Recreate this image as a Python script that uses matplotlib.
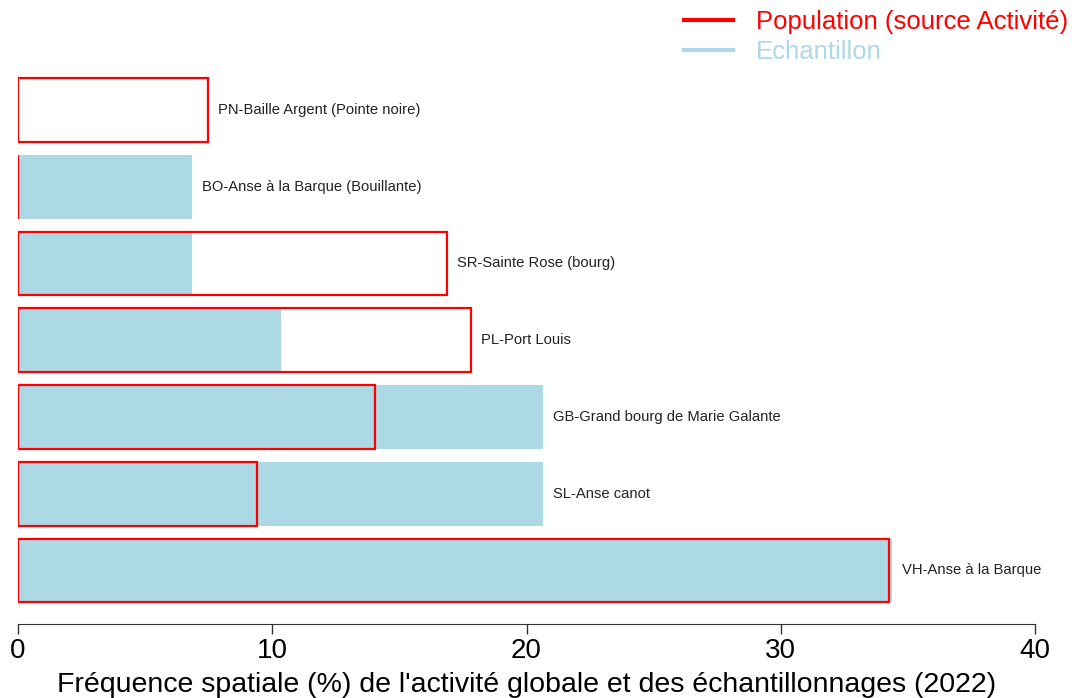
import matplotlib
matplotlib.use("Agg")
import matplotlib.pyplot as plt
from matplotlib.lines import Line2D

plt.rcParams['font.family'] = ['Liberation Sans', 'DejaVu Sans']

# sites, bottom to top
sites = ["VH-Anse à la Barque", "SL-Anse canot", "GB-Grand bourg de Marie Galante",
         "PL-Port Louis", "SR-Sainte Rose (bourg)", "BO-Anse à la Barque (Bouillante)",
         "PN-Baille Argent (Pointe noire)"]
population = [34.25, 9.40, 14.04, 17.81, 16.87, 0.0, 7.47]
echantillon = [34.37, 20.65, 20.65, 10.34, 6.84, 6.84, 0.0]

red = "#ff0000"
blue = "#add8e6"

fig = plt.figure(figsize=(10.75, 6.98), dpi=100)
ax = fig.add_axes([18 / 1075, 1 - 624 / 698, (1035 - 18) / 1075, (624 - 70) / 698])

ypos = list(range(len(sites)))
ax.barh(ypos, echantillon, height=0.83, color=blue, zorder=1)
ax.barh(ypos, population, height=0.83, facecolor="none", edgecolor=red,
        linewidth=1.6, zorder=2)

for y, name, p, e in zip(ypos, sites, population, echantillon):
    ax.annotate(name, xy=(max(p, e), y), xytext=(7, 0), textcoords="offset points",
                va="center", ha="left", fontsize=10.6, color="#222222")

ax.set_xlim(0, 40)
ax.set_ylim(-0.697, 6.52)
ax.set_xticks([0, 10, 20, 30, 40])
ax.tick_params(axis="x", length=7, width=1, colors="#333333", labelsize=20,
               labelcolor="black", pad=3)
ax.set_yticks([])
for s in ["top", "right", "left"]:
    ax.spines[s].set_visible(False)
ax.spines["bottom"].set_bounds(0, 40)
ax.spines["bottom"].set_color("#333333")
ax.set_xlabel("Fréquence spatiale (%) de l'activité globale et des échantillonnages (2022)",
              fontsize=20.5, labelpad=6)

handles = [Line2D([], [], color=red, lw=3), Line2D([], [], color=blue, lw=3)]
leg = fig.legend(handles, ["Population (source Activité)", "Echantillon"],
                 loc="upper right", bbox_to_anchor=(1068 / 1075, 1 - 10 / 698), frameon=False,
                 fontsize=18.5, handlelength=1.9, labelspacing=0.25, handletextpad=0.9,
                 borderpad=0, borderaxespad=0)
for t, c in zip(leg.get_texts(), [red, blue]):
    t.set_color(c)

fig.savefig("out.png", dpi=100)
